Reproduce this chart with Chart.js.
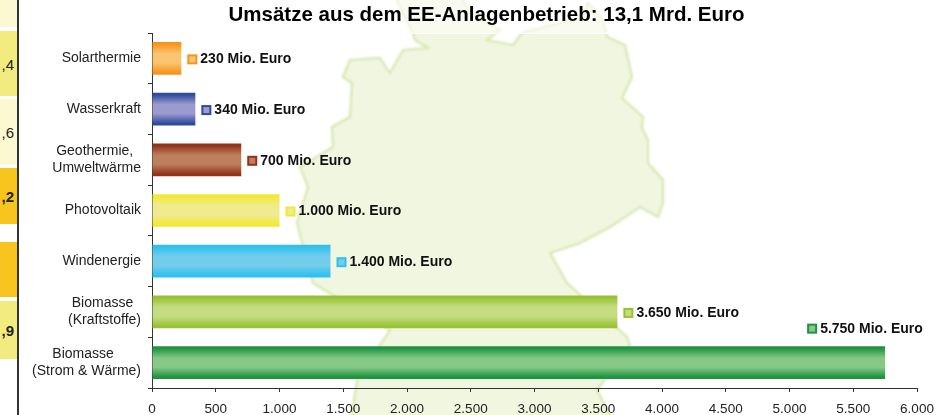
<!DOCTYPE html>
<html lang="de">
<head>
    <meta charset="UTF-8">
    <title>Umsätze aus dem EE-Anlagenbetrieb</title>
    <script src="https://cdn.jsdelivr.net/npm/chart.js"></script>
    <style>
        html, body { margin: 0; padding: 0; background: #fff; }
        body { position: relative; width: 941px; height: 415px; overflow: hidden; font-family: 'Liberation Sans', Arial, sans-serif; }
        #karte { position: absolute; left: 0; top: 0; }
        #kopf { position: absolute; left: 300px; top: 0; width: 400px; height: 33px; background: rgba(255,255,255,0.55); border-bottom: 1px solid #fff; }
        #grafik { position: absolute; left: 32px; top: 0; }
        #linie { position: absolute; left: 17px; top: 0; width: 2px; height: 415px; background: #333; }
        .zelle { position: absolute; left: 0; width: 17px; font-size: 15px; color: #222; text-align: right; }
        .zelle span { position: absolute; right: 3px; top: 50%; transform: translateY(-50%); }
        .hell { background: #fbf8d2; }
        .mittel { background: #f2ec80; }
        .gold { background: #f7c51e; }
    </style>
</head>
<body>

<svg id="karte" width="941" height="415">
    <defs><filter id="weich"><feGaussianBlur stdDeviation="1"/></filter></defs>
    <polygon filter="url(#weich)" fill="#f1f6e0" stroke="#d6e7ae" stroke-width="2.2"
        points="343,77 350,60 380,58 390,73 403,50 428,48 415,40 413,33 398,3 395,-5 460,-5 470,12 500,30 487,40 513,45 522,33 583,17 588,3 603,20 607,37 625,45 632,77 622,98 643,117 642,128 648,140 648,163 663,180 663,203 658,217 640,207 610,227 580,243 550,253 567,283 627,337 630,345 597,390 610,415 610,430 350,430 352,415 357,380 390,330 313,283 297,223 308,187 300,167 333,147 332,127 350,117 352,83"/>
</svg>
<div id="kopf"></div>

<div class="zelle hell" style="top:0;height:27px"></div>
<div class="zelle mittel" style="top:31px;height:65px"><span>,4</span></div>
<div class="zelle hell" style="top:99px;height:66px"><span>,6</span></div>
<div class="zelle gold" style="top:168px;height:56px"><span><b>,2</b></span></div>
<div class="zelle gold" style="top:242px;height:55px"></div>
<div class="zelle mittel" style="top:301px;height:58px"><span><b>,9</b></span></div>
<div id="linie"></div>

<canvas id="grafik" width="909" height="415"></canvas>

<script>
    const kategorien = [
        "Solarthermie", "Wasserkraft", ["Geothermie,\u00a0\u00a0", "Umweltwärme"], "Photovoltaik",
        "Windenergie", ["Biomasse\u00a0\u00a0", "(Kraftstoffe)"], ["Biomasse\u00a0\u00a0\u00a0\u00a0\u00a0\u00a0\u00a0", "(Strom & Wärme)"]
    ];
    const umsaetze = [230, 340, 700, 1000, 1400, 3650, 5750];
    const wertTexte = [
        "230 Mio. Euro", "340 Mio. Euro", "700 Mio. Euro", "1.000 Mio. Euro",
        "1.400 Mio. Euro", "3.650 Mio. Euro", "5.750 Mio. Euro"
    ];
    const xTexte = ["0", "500", "1.000", "1.500", "2.000", "2.500", "3.000", "3.500", "4.000", "4.500", "5.000", "5.500", "6.000"];
    const randFarben = ["#f7941d", "#2e4b9e", "#93311a", "#f2e930", "#2fc0ef", "#96c234", "#1f9342"];
    const mitteFarben = ["#fbc470", "#9c9ace", "#bd7f5e", "#f0eb90", "#72cdeb", "#c5dd80", "#85c985"];

    const balkenAnteil = 0.645;
    const schrift = "'Liberation Sans', Arial, sans-serif";

    function verlauf(ctx, i, y0, y1) {
        const g = ctx.createLinearGradient(0, y0, 0, y1);
        g.addColorStop(0, randFarben[i]);
        g.addColorStop(0.06, randFarben[i]);
        g.addColorStop(0.36, mitteFarben[i]);
        g.addColorStop(0.64, mitteFarben[i]);
        g.addColorStop(0.94, randFarben[i]);
        g.addColorStop(1, randFarben[i]);
        return g;
    }

    // Schlüsselkästchen und Wert neben jedem Balken
    const wertPlugin = {
        id: 'wertPlugin',
        afterDatasetsDraw(chart) {
            const { ctx, scales } = chart;
            ctx.save();
            ctx.font = "bold 14px " + schrift;
            ctx.textBaseline = 'middle';
            umsaetze.forEach((wert, i) => {
                let x = scales.x.getPixelForValue(wert) + 6;
                let y = scales.y.getPixelForValue(i) + 1;
                // der letzte Balken reicht zu weit, sein Text steht darüber
                if (i === 6) { x -= 84; y -= 35; }
                ctx.fillStyle = randFarben[i];
                ctx.fillRect(x, y - 5, 10, 10);
                ctx.fillStyle = mitteFarben[i];
                ctx.fillRect(x + 2, y - 3, 6, 6);
                ctx.fillStyle = '#111';
                ctx.fillText(wertTexte[i], x + 13, y);
            });
            ctx.restore();
        }
    };

    new Chart(document.getElementById('grafik'), {
        type: 'bar',
        plugins: [wertPlugin],
        data: {
            labels: kategorien,
            datasets: [{
                data: umsaetze,
                categoryPercentage: 1,
                barPercentage: balkenAnteil,
                backgroundColor: c => {
                    const sy = c.chart.scales.y;
                    const y = sy ? sy.getPixelForValue(c.dataIndex) : NaN;
                    if (!Number.isFinite(y)) return randFarben[c.dataIndex];
                    const h = sy.height / kategorien.length * balkenAnteil / 2;
                    return verlauf(c.chart.ctx, c.dataIndex, y - h, y + h);
                }
            }]
        },
        options: {
            indexAxis: 'y',
            responsive: false,
            animation: false,
            plugins: {
                legend: { display: false },
                tooltip: { enabled: false },
                title: {
                    display: true,
                    text: 'Umsätze aus dem EE-Anlagenbetrieb: 13,1 Mrd. Euro',
                    color: '#000',
                    font: { family: schrift, size: 20.5, weight: 'bold', lineHeight: 1.2 },
                    padding: { top: 3, bottom: 5.4 }
                }
            },
            scales: {
                x: {
                    min: 0,
                    max: 6000,
                    afterFit: s => { s.height = 27; s.paddingRight = 24; },
                    border: { color: '#333' },
                    grid: { drawOnChartArea: false, color: '#333', tickLength: 4 },
                    ticks: {
                        stepSize: 500,
                        autoSkip: false,
                        maxRotation: 0,
                        padding: 9,
                        color: '#222',
                        font: { family: schrift, size: 13.5 },
                        callback: (v, i) => xTexte[i]
                    }
                },
                y: {
                    afterFit: s => { s.width = 120; },
                    border: { color: '#333' },
                    grid: { drawOnChartArea: false, color: '#333', tickLength: 4, offset: true },
                    ticks: {
                        autoSkip: false,
                        padding: 7,
                        color: '#222',
                        font: { family: schrift, size: 14, lineHeight: 1.2 }
                    }
                }
            }
        }
    });
</script>

</body>
</html>
